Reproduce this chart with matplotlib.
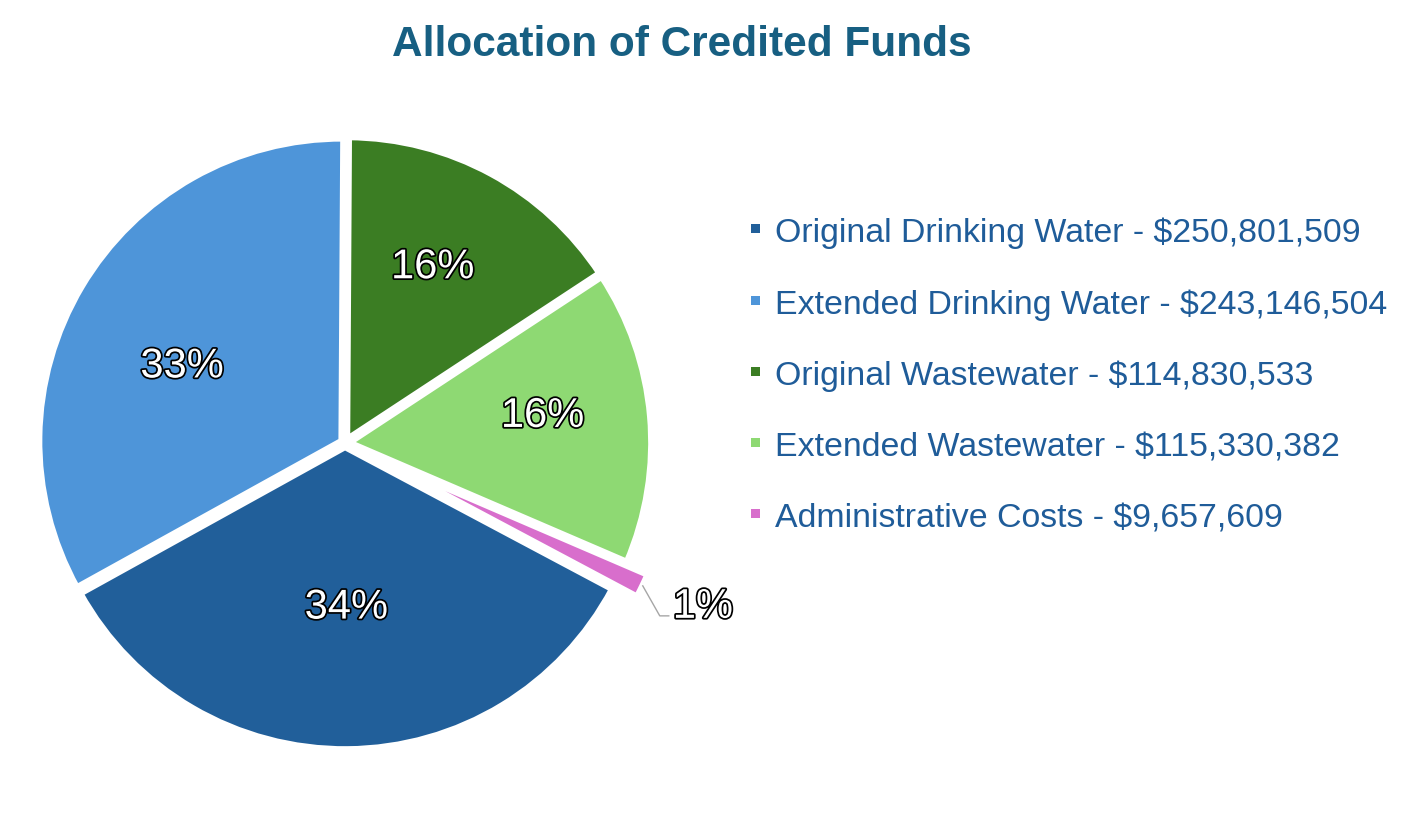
import matplotlib.pyplot as plt
import matplotlib.patheffects as pe
from matplotlib.patches import Patch
import numpy as np

plt.rcParams['font.family'] = ['Liberation Sans', 'DejaVu Sans']

# donnees du graphique
categories = ['Original Drinking Water', 'Extended Drinking Water',
              'Original Wastewater', 'Extended Wastewater',
              'Administrative Costs']
amounts = [250801509, 243146504, 114830533, 115330382, 9657609]
colors = ['#215F9A', '#4E95D9', '#3B7D23', '#8ED973', '#D86ECC']

total = sum(amounts)
pct_labels = [f'{round(100 * a / total)}%' for a in amounts]
legend_labels = [f'{c} - ${a:,}' for c, a in zip(categories, amounts)]

# placement (pixels)
W, H = 1428, 820
R = 303.0          # rayon du camembert en pixels
cx, cy = 345, 444  # centre (depuis le haut)

fig = plt.figure(figsize=(W / 100, H / 100), dpi=100)
ax = fig.add_axes([0, 0, 1, 1])

wedges, _ = ax.pie(amounts, colors=colors, startangle=-28, counterclock=False,
                   explode=[0.012, 0.012, 0.012, 0.012, 0.09],
                   wedgeprops=dict(edgecolor='white', linewidth=5))
ax.set_xlim(-cx / R, (W - cx) / R)
ax.set_ylim(-(H - cy) / R, cy / R)
ax.set_aspect('auto')
ax.axis('off')

outline = [pe.withStroke(linewidth=2.5, foreground='black')]

# etiquettes dans les parts
dist = [0.53, 0.60, 0.66, 0.66]
shift = [0, 4.4, 2.5, 3.9]
for i in range(4):
    w = wedges[i]
    ang = np.deg2rad((w.theta1 + w.theta2) / 2 + shift[i])
    ax.text(dist[i] * np.cos(ang), dist[i] * np.sin(ang) - 4 / R, pct_labels[i],
            ha='center', va='center', fontsize=30, color='white',
            path_effects=outline)

# etiquette 1% avec ligne de rappel
w = wedges[4]
ang = np.deg2rad((w.theta1 + w.theta2) / 2)
x0 = w.center[0] + w.r * np.cos(ang)
y0 = w.center[1] + w.r * np.sin(ang)
x1, y1 = x0 + 17 / R, y0 - 30 / R
x2 = x1 + 9 / R
ax.plot([x0, x1, x2], [y0, y1, y1], color='#A6A6A6', linewidth=1)
ax.text(x2 + 4 / R, y1 + 9 / R, pct_labels[4], ha='left', va='center',
        fontsize=30, color='white', path_effects=outline)

# titre
fig.text(681.5 / W, 1 - 45 / H, 'Allocation of Credited Funds', ha='center',
         va='center', fontsize=30.5, fontweight='bold', color='#175F82')

# legende
handles = [Patch(facecolor=c, edgecolor='none') for c in colors]
ax.legend(handles, legend_labels, loc='center left',
          bbox_to_anchor=(751 / W, 1 - 376 / H), bbox_transform=fig.transFigure,
          frameon=False, fontsize=24.4, labelcolor='#1F5C99',
          handlelength=0.26, handleheight=0.02, handletextpad=0.44,
          labelspacing=1.18, borderpad=0, borderaxespad=0)

plt.savefig('out.png', dpi=100)
